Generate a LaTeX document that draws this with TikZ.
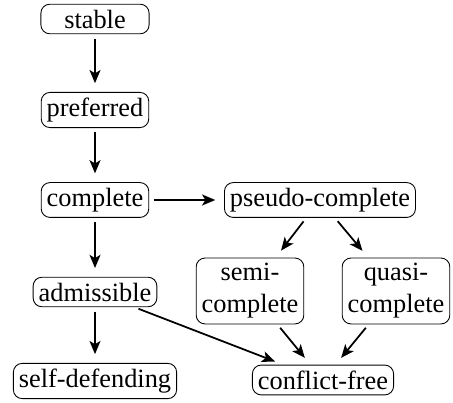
\documentclass[tikz,border=0pt]{standalone}
\usepackage{fontspec}
\setmainfont{Liberation Serif}
\usetikzlibrary{arrows.meta}

\tikzset{
    sem/.style={draw, rounded corners=4pt, inner sep=2.5pt, align=center,
        font=\fontsize{12}{14.5}\selectfont},
    sub/.style={-{Stealth[length=6pt, width=5pt, inset=1.5pt]}, thick,
        shorten <=2pt, shorten >=4pt},
}

\begin{document}
\begin{tikzpicture}
    \useasboundingbox (0,0) rectangle (7.248,6.448);

    \node[sem, minimum width=1.73cm] (stable) at (1.52,6.144) {stable};
    \node[sem] (preferred) at (1.52,4.688) {preferred};
    \node[sem] (complete) at (1.52,3.248) {complete};
    \node[sem] (admissible) at (1.52,1.776) {admissible};
    \node[sem] (selfdef) at (1.52,0.352) {self-defending};
    \node[sem] (pseudo) at (5.12,3.248) {pseudo-complete};
    \node[sem] (semi) at (4.0,1.792) {semi-\\complete};
    \node[sem] (quasi) at (6.336,1.792) {quasi-\\complete};
    \node[sem] (cf) at (5.168,0.368) {conflict-free};

    \draw[sub] (stable) -- (preferred);
    \draw[sub] (preferred) -- (complete);
    \draw[sub] (complete) -- (admissible);
    \draw[sub] (admissible) -- (selfdef);
    \draw[sub] (complete) -- (pseudo);
    \draw[sub] (pseudo) -- (semi);
    \draw[sub] (pseudo) -- (quasi);
    \draw[sub] (semi) -- (cf);
    \draw[sub] (quasi) -- (cf);
    \draw[sub] (admissible) -- (cf);
\end{tikzpicture}
\end{document}
